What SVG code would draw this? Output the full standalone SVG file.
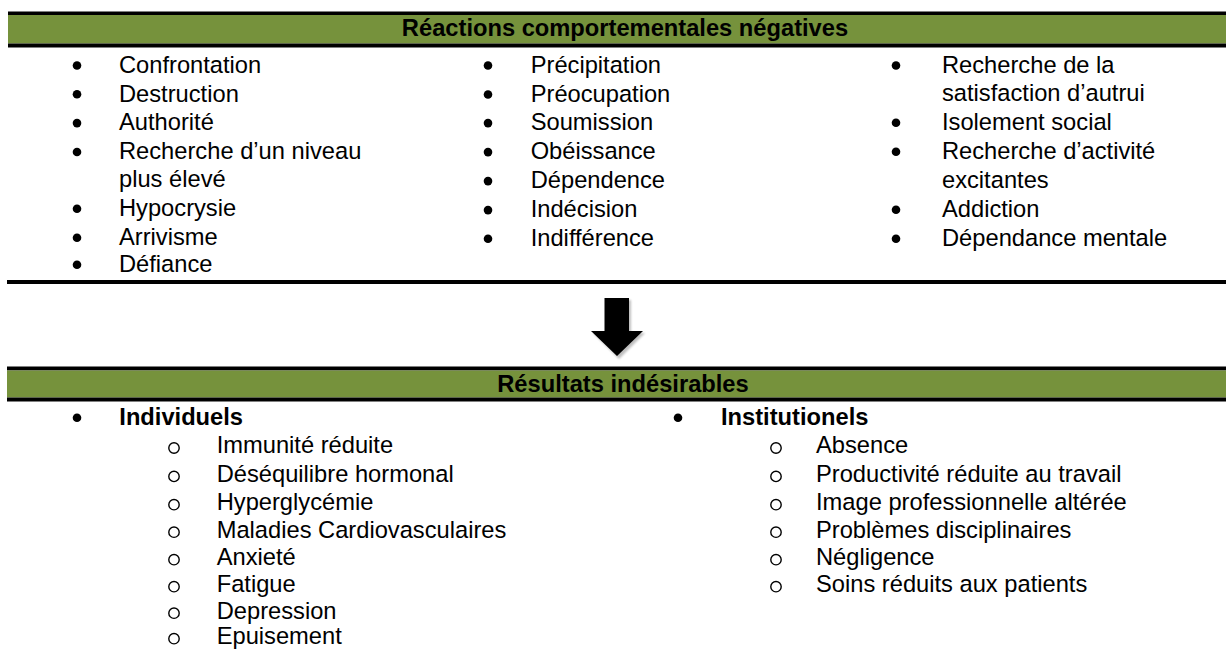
<svg xmlns="http://www.w3.org/2000/svg" width="1226" height="649" viewBox="0 0 1226 649">
<style>
  text { font-family: "Liberation Sans", Arial, sans-serif; font-size: 23.7px; fill: #000; }
  .b { font-weight: bold; }
  .hd { font-weight: bold; text-anchor: middle; }
  .bar { fill: #76923C; }
  .rule { fill: #000; }
  .dot { fill: #000; }
  .ring { fill: none; stroke: #000; stroke-width: 1.4; }
</style>
<defs>
  <filter id="sh" x="-20%" y="-20%" width="140%" height="140%">
    <feGaussianBlur stdDeviation="1.2"/>
  </filter>
</defs>
<rect width="1226" height="649" fill="#fff"/>

<g id="reactions">
  <rect class="rule" x="8" y="11.5" width="1218" height="3.5"/>
  <rect class="bar" x="8" y="15" width="1218" height="28.5"/>
  <rect class="rule" x="8" y="43.5" width="1218" height="4"/>
  <text class="hd" x="625" y="36">Réactions comportementales négatives</text>

  <g id="col1">
    <circle class="dot" cx="77" cy="65.5" r="4.3"/><text x="119" y="72.7">Confrontation</text>
    <circle class="dot" cx="77" cy="94.3" r="4.3"/><text x="119" y="101.5">Destruction</text>
    <circle class="dot" cx="77" cy="123.1" r="4.3"/><text x="119" y="130.3">Authorité</text>
    <circle class="dot" cx="77" cy="152" r="4.3"/><text x="119" y="159.3">Recherche d’un niveau</text>
    <text x="119" y="187">plus élevé</text>
    <circle class="dot" cx="77" cy="208.8" r="4.3"/><text x="119" y="216">Hypocrysie</text>
    <circle class="dot" cx="77" cy="237.8" r="4.3"/><text x="119" y="245">Arrivisme</text>
    <circle class="dot" cx="77" cy="264.8" r="4.3"/><text x="119" y="272">Défiance</text>
  </g>

  <g id="col2">
    <circle class="dot" cx="488" cy="65.5" r="4.3"/><text x="530.7" y="72.7">Précipitation</text>
    <circle class="dot" cx="488" cy="94.5" r="4.3"/><text x="530.7" y="101.7">Préocupation</text>
    <circle class="dot" cx="488" cy="123.1" r="4.3"/><text x="530.7" y="130.3">Soumission</text>
    <circle class="dot" cx="488" cy="152.1" r="4.3"/><text x="530.7" y="159.3">Obéissance</text>
    <circle class="dot" cx="488" cy="181.1" r="4.3"/><text x="530.7" y="188.3">Dépendence</text>
    <circle class="dot" cx="488" cy="210.1" r="4.3"/><text x="530.7" y="217.3">Indécision</text>
    <circle class="dot" cx="488" cy="238.8" r="4.3"/><text x="530.7" y="246">Indifférence</text>
  </g>

  <g id="col3">
    <circle class="dot" cx="896" cy="65.5" r="4.3"/><text x="942" y="72.7">Recherche de la</text>
    <text x="942" y="101">satisfaction d’autrui</text>
    <circle class="dot" cx="896" cy="122.8" r="4.3"/><text x="942" y="130">Isolement social</text>
    <circle class="dot" cx="896" cy="151.8" r="4.3"/><text x="942" y="159">Recherche d’activité</text>
    <text x="942" y="188">excitantes</text>
    <circle class="dot" cx="896" cy="209.8" r="4.3"/><text x="942" y="217">Addiction</text>
    <circle class="dot" cx="896" cy="238.8" r="4.3"/><text x="942" y="246">Dépendance mentale</text>
  </g>

  <rect class="rule" x="7" y="280" width="1219" height="4"/>
</g>

<g id="connectors">
  <g id="arrow">
    <polygon points="607,300 631,300 631,333 645,333 619,359 593,333 607,333" fill="#000" opacity="0.25" filter="url(#sh)"/>
    <polygon points="604.5,298 629,298 629,331 643,331 617,356 591,331 604.5,331" fill="#000"/>
  </g>
</g>

<g id="resultats">
  <rect class="rule" x="7" y="366.5" width="1219" height="4"/>
  <rect class="bar" x="7" y="370.5" width="1219" height="27"/>
  <rect class="rule" x="7" y="397.5" width="1219" height="4"/>
  <text class="hd" x="623" y="391.5">Résultats indésirables</text>

  <g id="individuels">
    <circle class="dot" cx="77" cy="417.8" r="4.3"/><text class="b" x="119.3" y="425">Individuels</text>
    <circle class="ring" cx="174" cy="448" r="5.2"/><text x="216.7" y="453.3">Immunité réduite</text>
    <circle class="ring" cx="174" cy="476.4" r="5.2"/><text x="216.7" y="481.7">Déséquilibre hormonal</text>
    <circle class="ring" cx="174" cy="504.7" r="5.2"/><text x="216.7" y="510">Hyperglycémie</text>
    <circle class="ring" cx="174" cy="532.2" r="5.2"/><text x="216.7" y="537.5">Maladies Cardiovasculaires</text>
    <circle class="ring" cx="174" cy="559.7" r="5.2"/><text x="216.7" y="565">Anxieté</text>
    <circle class="ring" cx="174" cy="586.7" r="5.2"/><text x="216.7" y="592">Fatigue</text>
    <circle class="ring" cx="174" cy="613.2" r="5.2"/><text x="216.7" y="618.5">Depression</text>
    <circle class="ring" cx="174" cy="638.7" r="5.2"/><text x="216.7" y="644">Epuisement</text>
  </g>

  <g id="institutionels">
    <circle class="dot" cx="678" cy="417.8" r="4.3"/><text class="b" x="721" y="425">Institutionels</text>
    <circle class="ring" cx="776" cy="448" r="5.2"/><text x="816" y="453.3">Absence</text>
    <circle class="ring" cx="776" cy="476.4" r="5.2"/><text x="816" y="481.7">Productivité réduite au travail</text>
    <circle class="ring" cx="776" cy="504.7" r="5.2"/><text x="816" y="510">Image professionnelle altérée</text>
    <circle class="ring" cx="776" cy="532.2" r="5.2"/><text x="816" y="537.5">Problèmes disciplinaires</text>
    <circle class="ring" cx="776" cy="559.7" r="5.2"/><text x="816" y="565">Négligence</text>
    <circle class="ring" cx="776" cy="586.7" r="5.2"/><text x="816" y="592">Soins réduits aux patients</text>
  </g>
</g>
</svg>
